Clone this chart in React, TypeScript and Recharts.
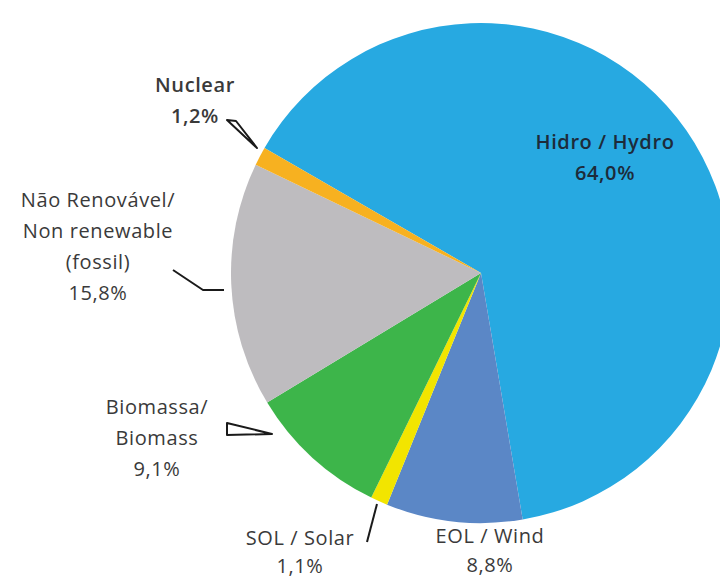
import React from "react";
import { PieChart, Pie, Cell } from "recharts";

const categories = ["Hidro / Hydro", "EOL / Wind", "SOL / Solar", "Biomassa/ Biomass", "Não Renovável/ Non renewable (fossil)", "Nuclear"];
const shares = [64.0, 8.8, 1.1, 9.1, 15.8, 1.2];
const labelLines: string[][] = [
  ["Hidro / Hydro"],
  ["EOL / Wind"],
  ["SOL / Solar"],
  ["Biomassa/", "Biomass"],
  ["Não Renovável/", "Non renewable", "(fossil)"],
  ["Nuclear"],
];
const colors = ["#27A9E1", "#5B87C6", "#F2E500", "#3DB54A", "#BEBCBF", "#F7B120"];

const data = categories.map((name, i) => ({ name, value: shares[i] }));

// label layout (text anchor x, first baseline y, line height, leader path)
const layout = [
  { x: 605, y: 149, lh: 31, leader: null as string | null, fill: "#1d2b3a" },
  { x: 490, y: 543, lh: 29, leader: null, fill: "#3a3a3a" },
  { x: 300, y: 545, lh: 28, leader: "M367,542 L377,504", fill: "#3a3a3a" },
  { x: 157, y: 414, lh: 31, leader: "M272,434 L227,423 L227,435 Z", fill: "#3a3a3a" },
  { x: 98, y: 207, lh: 31, leader: "M173,270 L203,290 L224,290", fill: "#3a3a3a" },
  { x: 195, y: 92, lh: 31, leader: "M227,120 L257,148 L236,121 Z", fill: "#3a3a3a" },
];

const fmt = (v: number) => v.toFixed(1).replace(".", ",") + "%";

const renderLabel = (props: any) => {
  const i = props.index as number;
  const l = layout[i];
  const lines = [...labelLines[i], fmt(shares[i])];
  return (
    <g key={"lbl" + i}>
      {l.leader && (
        <path d={l.leader} fill="none" stroke="#1a1a1a" strokeWidth={2} strokeLinejoin="round" />
      )}
      <text
        x={l.x}
        y={l.y}
        textAnchor="middle"
        fill={l.fill}
        fontFamily="'Open Sans', sans-serif"
        fontSize={20}
        letterSpacing={0.6}
        fontWeight={i === 0 || i === 5 ? 600 : 500}
      >
        {lines.map((t, k) => (
          <tspan key={k} x={l.x} dy={k === 0 ? 0 : l.lh}>
            {t}
          </tspan>
        ))}
      </text>
    </g>
  );
};

export default function App() {
  return (
    <div style={{ width: 720, height: 580, background: "#fff" }}>
      <style>{`body{margin:0}`}</style>
      <PieChart width={720} height={580}>
        <Pie
          data={data}
          dataKey="value"
          nameKey="name"
          cx={476}
          cy={268}
          outerRadius={250}
          startAngle={150}
          endAngle={-210}
          stroke="none"
          isAnimationActive={false}
          label={renderLabel}
          labelLine={false}
        >
          {data.map((d, i) => (
            <Cell key={d.name} fill={colors[i]} />
          ))}
        </Pie>
      </PieChart>
    </div>
  );
}
